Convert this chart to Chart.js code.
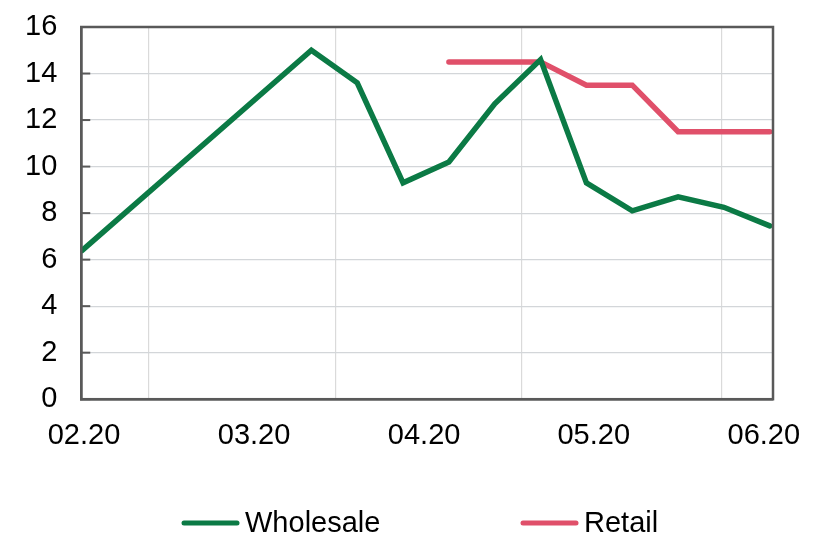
<!DOCTYPE html>
<html>
<head>
<meta charset="utf-8">
<script src="https://cdn.jsdelivr.net/npm/chart.js@4.4.1/dist/chart.umd.min.js"></script>
<style>
  body { margin: 0; background: #fff; }
</style>
</head>
<body>
<canvas id="grafico" width="819" height="538"></canvas>
<script>
const ctx = document.getElementById('grafico')

// one point every ~8 days, week index 0..15
const semanas = [0, 1, 2, 3, 4, 5, 6, 7, 8, 9, 10, 11, 12, 13, 14, 15]
const atacado = [6.4, null, null, null, null, 15.0, 13.6, 9.3, 10.2, 12.7, 14.6, 9.3, 8.1, 8.7, 8.25, 7.45]
const varejo = [null, null, null, null, null, null, null, null, 14.5, 14.5, 14.5, 13.5, 13.5, 11.5, 11.5, 11.5]

// month labels sit between the weekly points
const mesesPos = [0.04, 3.75, 7.46, 11.16, 14.87]
const mesesLabels = ['02.20', '03.20', '04.20', '05.20', '06.20']
const gradePos = [1.44, 5.52, 9.59, 13.95]

const fonte = { family: "'Liberation Sans', Arial, sans-serif", size: 29 }
const corEixo = '#595959'

const pontos = (valores) => semanas.map((s, i) => ({ x: s, y: valores[i] }))

// frame + inner tick marks + legend
const extras = {
  id: 'extras',
  afterDraw(chart) {
    const c = chart.ctx
    const a = chart.chartArea
    c.save()
    c.strokeStyle = corEixo
    c.lineWidth = 2.5
    c.strokeRect(a.left, a.top, a.right - a.left, a.bottom - a.top)
    const y = chart.scales.y
    c.lineWidth = 2
    y.ticks.forEach((t) => {
      const py = y.getPixelForValue(t.value)
      c.beginPath()
      c.moveTo(a.left, py)
      c.lineTo(a.left + 9, py)
      c.stroke()
    })
    // legenda
    const inicio = [184, 523]
    c.font = `${fonte.size}px ${fonte.family}`
    c.textBaseline = 'middle'
    c.lineCap = 'round'
    chart.data.datasets.forEach((ds, i) => {
      const x = inicio[i]
      c.strokeStyle = ds.borderColor
      c.lineWidth = 5
      c.beginPath()
      c.moveTo(x, 523)
      c.lineTo(x + 53, 523)
      c.stroke()
      c.fillStyle = '#000'
      c.fillText(ds.label, x + 61, 524)
    })
    c.restore()
  }
}

new Chart(ctx, {
  type: 'line',
  data: {
    datasets: [{
      label: 'Wholesale',
      data: pontos(atacado),
      borderColor: '#0b7a45',
      borderWidth: 5.5,
      pointRadius: 0,
      spanGaps: true,
      borderCapStyle: 'round'
    }, {
      label: 'Retail',
      data: pontos(varejo),
      borderColor: '#e0506a',
      borderWidth: 5.5,
      pointRadius: 0,
      spanGaps: false,
      borderCapStyle: 'round'
    }]
  },
  options: {
    responsive: false,
    animation: false,
    layout: { padding: { left: 16, right: 46, top: 27, bottom: 66 } },
    plugins: {
      legend: { display: false },
      tooltip: { enabled: false }
    },
    scales: {
      x: {
        type: 'linear',
        min: -0.02,
        max: 15.07,
        afterBuildTicks: (eixo) => {
          eixo.ticks = [...mesesPos, ...gradePos].map((v) => ({ value: v }))
        },
        ticks: {
          autoSkip: false,
          maxRotation: 0,
          padding: 19,
          color: '#000',
          font: fonte,
          callback: (v) => {
            const i = mesesPos.indexOf(v)
            return i >= 0 ? mesesLabels[i] : ''
          }
        },
        grid: {
          drawTicks: false,
          lineWidth: 1.2,
          color: (c) => (c.tick && gradePos.includes(c.tick.value)) ? '#dadada' : 'rgba(0,0,0,0)'
        },
        border: { color: corEixo, width: 2.5 }
      },
      y: {
        min: 0,
        max: 16,
        ticks: {
          stepSize: 2,
          padding: 9,
          color: '#000',
          font: fonte
        },
        grid: {
          drawTicks: true,
          tickLength: 15,
          tickColor: 'rgba(0,0,0,0)',
          color: '#d3d6d9',
          lineWidth: 1.2
        },
        border: { color: corEixo, width: 2.5 }
      }
    }
  },
  plugins: [extras]
})
</script>
</body>
</html>
